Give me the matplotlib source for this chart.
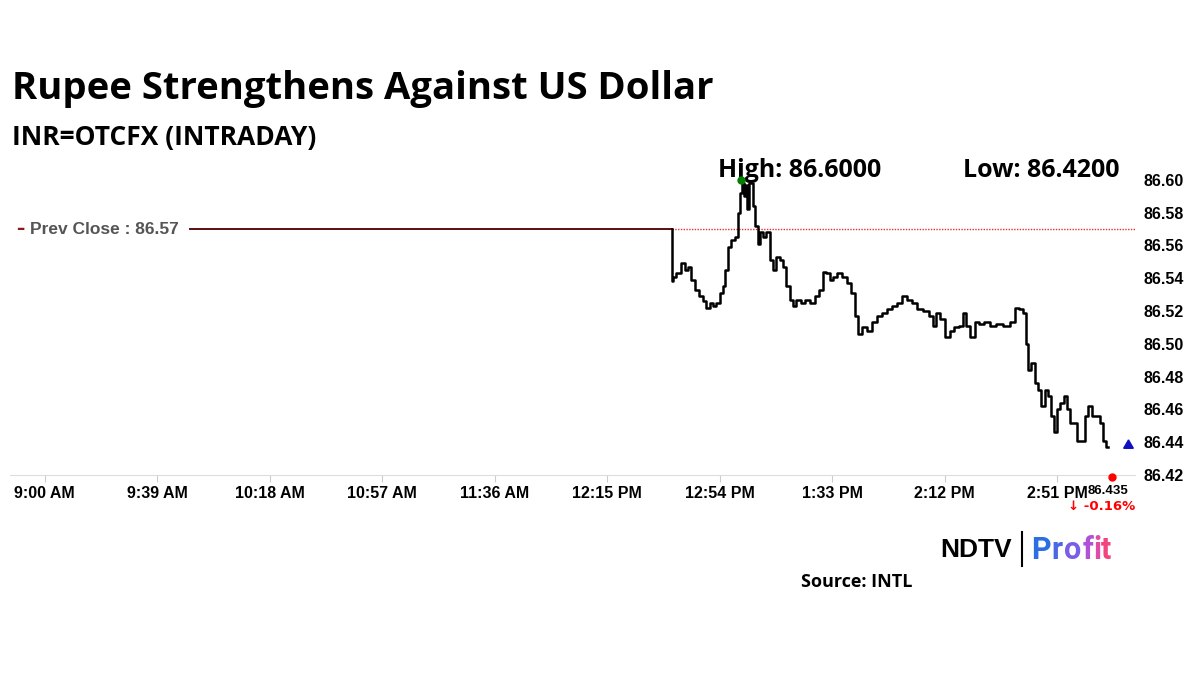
import matplotlib
matplotlib.use("Agg")
import matplotlib.pyplot as plt
import numpy as np

# minutes after 9:00 AM and INR price
minutes = [217.4, 217.4, 218.4, 219.6, 221.3, 222.4, 223.6, 224.8, 225.9, 227.6, 228.8, 230.0,
           231.1, 232.3, 233.4, 234.6, 235.7, 236.3, 237.5, 238.6, 239.8, 240.7, 241.5, 242.1,
           242.7, 243.5, 243.8, 244.4, 245.3, 246.1, 246.7, 247.6, 248.4, 249.6, 250.8, 251.9,
           253.1, 254.2, 255.4, 256.5, 257.7, 258.8, 260.0, 261.2, 262.9, 264.6, 266.4, 267.5,
           269.2, 270.4, 271.6, 272.7, 273.9, 275.6, 277.3, 279.1, 280.2, 281.4, 282.5, 284.3,
           286.0, 287.7, 289.5, 291.2, 292.9, 294.7, 296.4, 298.1, 299.9, 301.6, 303.3, 305.6,
           307.4, 308.5, 309.7, 311.4, 313.2, 314.3, 316.0, 317.8, 318.9, 320.1, 321.8, 323.0,
           324.7, 326.4, 328.8, 331.1, 333.4, 335.7, 336.9, 338.6, 339.7, 340.5, 341.5, 342.6,
           343.8, 344.9, 346.1, 347.3, 348.4, 349.6, 350.5, 351.3, 353.0, 354.0, 354.8, 355.9,
           357.1, 358.6, 360.0, 361.1, 362.5, 363.4, 365.2, 366.3, 367.5, 368.6]
prices = [86.570, 86.538, 86.541, 86.543, 86.549, 86.545, 86.547, 86.539, 86.533, 86.529, 86.526, 86.522,
          86.525, 86.523, 86.525, 86.531, 86.535, 86.545, 86.559, 86.563, 86.565, 86.580, 86.592, 86.598,
          86.590, 86.597, 86.582, 86.598, 86.598, 86.584, 86.572, 86.561, 86.568, 86.565, 86.568, 86.551,
          86.545, 86.553, 86.551, 86.547, 86.535, 86.527, 86.523, 86.527, 86.525, 86.527, 86.525, 86.529,
          86.533, 86.544, 86.543, 86.539, 86.541, 86.543, 86.541, 86.537, 86.531, 86.517, 86.506, 86.510,
          86.508, 86.513, 86.517, 86.519, 86.521, 86.523, 86.525, 86.529, 86.527, 86.525, 86.521, 86.520,
          86.517, 86.511, 86.519, 86.515, 86.504, 86.508, 86.510, 86.511, 86.519, 86.511, 86.504, 86.513,
          86.512, 86.513, 86.511, 86.512, 86.511, 86.513, 86.522, 86.521, 86.519, 86.500, 86.484, 86.488,
          86.476, 86.472, 86.462, 86.472, 86.468, 86.456, 86.446, 86.460, 86.464, 86.468, 86.460, 86.452,
          86.452, 86.441, 86.441, 86.456, 86.462, 86.456, 86.456, 86.452, 86.441, 86.437]

prev_close = 86.57
high, low = 86.60, 86.42
last_price, change_pct = 86.435, -0.16
xtick_min = [0, 39, 78, 117, 156, 195, 234, 273, 312, 351]
xtick_labels = ["9:00 AM", "9:39 AM", "10:18 AM", "10:57 AM", "11:36 AM",
                "12:15 PM", "12:54 PM", "1:33 PM", "2:12 PM", "2:51 PM"]
yticks = [86.42, 86.44, 86.46, 86.48, 86.50, 86.52, 86.54, 86.56, 86.58, 86.60]

W, H = 1200, 675
fig = plt.figure(figsize=(12, 6.75), dpi=100)
ax = fig.add_axes([10 / W, 1 - 475 / H, 1125 / W, 310 / H])
ax.set_xlim(-12, 378)
ax.set_ylim(86.42, 86.42 + 310 / 32.8 * 0.02)

ax.step(minutes, prices, where="mid", color="black", lw=1.8, zorder=3)
# prev close: solid to first trade, dotted afterwards
ax.plot([50.5, minutes[0]], [prev_close] * 2, color="#5a0f0f", lw=1.4)
ax.axhline(prev_close, xmin=(minutes[0] + 12) / 390, color="#e03030", lw=1.0, ls=(0, (1, 1)))
ax.text(-10, prev_close, "\u2013", color="#8b1a1a", fontsize=12, fontweight="bold", va="center")
ax.text(-5, prev_close, "Prev Close : 86.57", color="#555555", fontsize=12.5,
        fontweight="bold", va="center", family="Liberation Sans")

i_hi = int(np.argmax(prices))
ax.plot(minutes[i_hi] - 0.6, high, "o", color="green", ms=5, zorder=4)
ax.plot(minutes[-1] + 7, 86.438, marker=(3, 0, 0), color="#1010c0", ms=8, zorder=4)
ax.plot(minutes[-1] + 1.5, 86.4185, "o", color="red", ms=5, zorder=4, clip_on=False)

ax.text(233.5, 86.6055, f"High: {high:.4f}", fontsize=18, fontweight="bold", ha="left", va="center",
        family="Open Sans")
ax.text(318.5, 86.6055, f"Low: {low:.4f}", fontsize=18, fontweight="bold", ha="left", va="center",
        family="Open Sans")

ax.set_xticks(xtick_min, xtick_labels)
ax.set_yticks(yticks, [f"{v:.2f}" for v in yticks])
ax.yaxis.tick_right()
ax.tick_params(axis="x", length=5, color="#cccccc", labelsize=11.5, pad=3)
ax.tick_params(axis="y", length=0, labelsize=11.5, pad=6)
for lab in ax.get_xticklabels() + ax.get_yticklabels():
    lab.set_fontweight("bold")
    lab.set_family("Liberation Sans")
for s in ["top", "left", "right"]:
    ax.spines[s].set_visible(False)
ax.spines["bottom"].set_color("#dddddd")

fig.text(1108 / W, 1 - 491 / H, f"{last_price:.3f}", fontsize=9.5, fontweight="bold",
         ha="center", va="center", family="Liberation Sans")
fig.text(1102 / W, 1 - 507 / H, f"\u2193 {change_pct:.2f}%", fontsize=9.5, fontweight="bold",
         color="red", ha="center", va="center", family="DejaVu Sans")

fig.text(12 / W, 1 - 89 / H, "Rupee Strengthens Against US Dollar", fontsize=27.5,
         fontweight="bold", va="center", family="Open Sans")
fig.text(12 / W, 1 - 137 / H, "INR=OTCFX (INTRADAY)", fontsize=19, fontweight="bold",
         va="center", family="Open Sans")

# logo
fig.text(1012 / W, 1 - 550 / H, "NDTV", fontsize=19, fontweight="heavy", ha="right",
         va="center", family="Liberation Sans")
fig.add_artist(plt.Line2D([1022 / W] * 2, [1 - 532 / H, 1 - 566 / H], color="black", lw=1.5))
grad = ["#2b6fe0", "#4a68e4", "#7a5fe6", "#b052d8", "#e04aa8", "#f0457f"]
x0 = 1031
for ch, c, w in zip("Profit", grad, [20, 13, 19, 10, 8, 12]):
    fig.text(x0 / W, 1 - 550 / H, ch, fontsize=22, fontweight="bold", color=c, va="center",
             family="Roboto")
    x0 += w
fig.text(857 / W, 1 - 582 / H, "Source: INTL", fontsize=13, fontweight="bold", ha="center",
         va="center", family="Open Sans")

fig.savefig("out.png", dpi=100, facecolor="white")
